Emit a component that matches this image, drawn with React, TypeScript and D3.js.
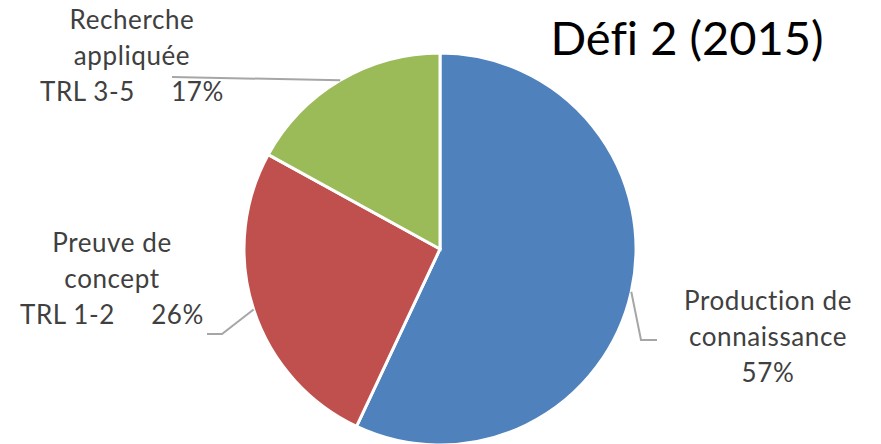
import React from "react";
import * as d3 from "d3";

const categories = ["Production de connaissance", "Preuve de concept TRL 1-2", "Recherche appliquée TRL 3-5"];
const values = [57, 26, 17];
const colors = ["#4F81BD", "#C0504D", "#9BBB59"];
const labelLines = [
  ["Production de", "connaissance", "57%"],
  ["Preuve de", "concept", "TRL 1-2     26%"],
  ["Recherche", "appliquée", "TRL 3-5     17%"],
];
const title = "Défi 2 (2015)";

const W = 881, H = 444;
const cx = 440, cy = 249, R = 196;
// label layout: text center x, first baseline y, leader elbow & end
const labelLayout = [
  { x: 768, y: 310, elbow: [641, 340], end: [657, 340] },
  { x: 112, y: 252, elbow: [222, 334], end: [207, 334] },
  { x: 132, y: 29, elbow: [172, 77], end: [172, 77] },
];

export default function App() {
  const pie = d3.pie<number>().sort(null).value((d) => d)(values);
  const arc = d3.arc<d3.PieArcDatum<number>>().innerRadius(0).outerRadius(R);
  const font = "Lato, 'Open Sans', sans-serif";
  return (
    <svg width={W} height={H} style={{ position: "absolute", left: 0, top: 0, background: "#fff" }}>
      <g transform={`translate(${cx},${cy})`}>
        {pie.map((p, i) => (
          <path key={i} d={arc(p) || ""} fill={colors[i]} stroke="#fff" strokeWidth={3} />
        ))}
      </g>
      {pie.map((p, i) => {
        const a = (p.startAngle + p.endAngle) / 2;
        const sx = cx + Math.sin(a) * R;
        const sy = cy - Math.cos(a) * R;
        const L = labelLayout[i];
        return (
          <polyline
            key={"l" + i}
            points={`${sx},${sy} ${L.elbow[0]},${L.elbow[1]} ${L.end[0]},${L.end[1]}`}
            fill="none"
            stroke="#A6A6A6"
            strokeWidth={2}
          />
        );
      })}
      {labelLines.map((lines, i) => (
        <text
          key={"t" + i}
          fontFamily={font}
          fontSize={26}
          fill="#404040"
          textAnchor="middle"
          letterSpacing={0.6}
          style={{ fontVariantLigatures: "none" }}
        >
          {lines.map((ln, j) => (
            <tspan key={j} x={labelLayout[i].x} y={labelLayout[i].y + j * 36} style={{ whiteSpace: "pre" }}>
              {ln}
            </tspan>
          ))}
        </text>
      ))}
      <text
        x={687}
        y={55}
        fontFamily={font}
        fontSize={47}
        fill="#000"
        textAnchor="middle"
        style={{ fontVariantLigatures: "none" }}
      >
        {title}
      </text>
    </svg>
  );
}
